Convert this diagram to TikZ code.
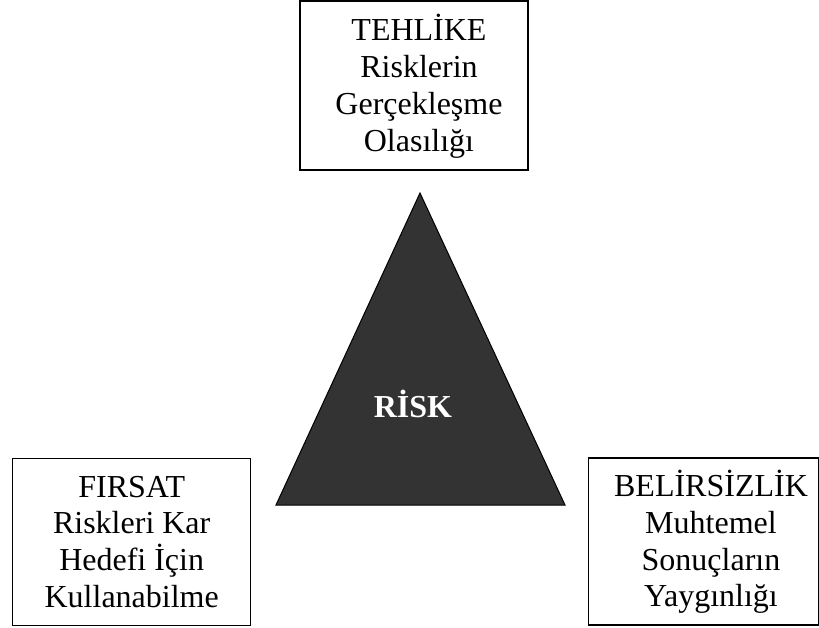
\documentclass[tikz,border=0pt]{standalone}
\usepackage{fontspec}
\setmainfont{Liberation Serif}
\definecolor{trifill}{HTML}{333333}
\begin{document}
\begin{tikzpicture}[x=1pt,y=-1pt,
  frame/.style={draw, line width=1.2pt, inner sep=0pt},
  label/.style={align=center, inner sep=0pt,
    font=\fontsize{32}{36.8}\selectfont},
  tri/.style={draw=black, fill=trifill, line width=1pt, line join=miter}]
\useasboundingbox (0,0) rectangle (819,627);
% the three frames
\node[frame, minimum width=228pt, minimum height=169pt] (tehlike) at (414,85.5) {};
\node[frame, minimum width=238pt, minimum height=167pt] (firsat) at (131.7,541.8) {};
\node[frame, minimum width=230pt, minimum height=167pt] (belirsizlik) at (703.5,541.5) {};
% their texts
\node[label] (tehlike-text) at ([xshift=5pt,yshift=-0.8pt]tehlike.center)
  {TEHLİKE\\Risklerin\\Gerçekleşme\\Olasılığı};
\node[label] (firsat-text) at (firsat.center)
  {FIRSAT\\Riskleri Kar\\Hedefi İçin\\Kullanabilme};
\node[label] (belirsizlik-text) at ([xshift=7.5pt,yshift=-0.5pt]belirsizlik.center)
  {BELİRSİZLİK\\Muhtemel\\Sonuçların\\Yaygınlığı};
% central triangle
\coordinate (apex) at (420,193);
\coordinate (bl) at (276,505);
\coordinate (br) at (565,505);
\path[tri] (apex) -- (br) -- (bl) -- cycle;
\node[anchor=base, text=white, font=\fontsize{32}{38}\selectfont\bfseries] (risk) at (413,417) {RİSK};
\end{tikzpicture}
\end{document}
